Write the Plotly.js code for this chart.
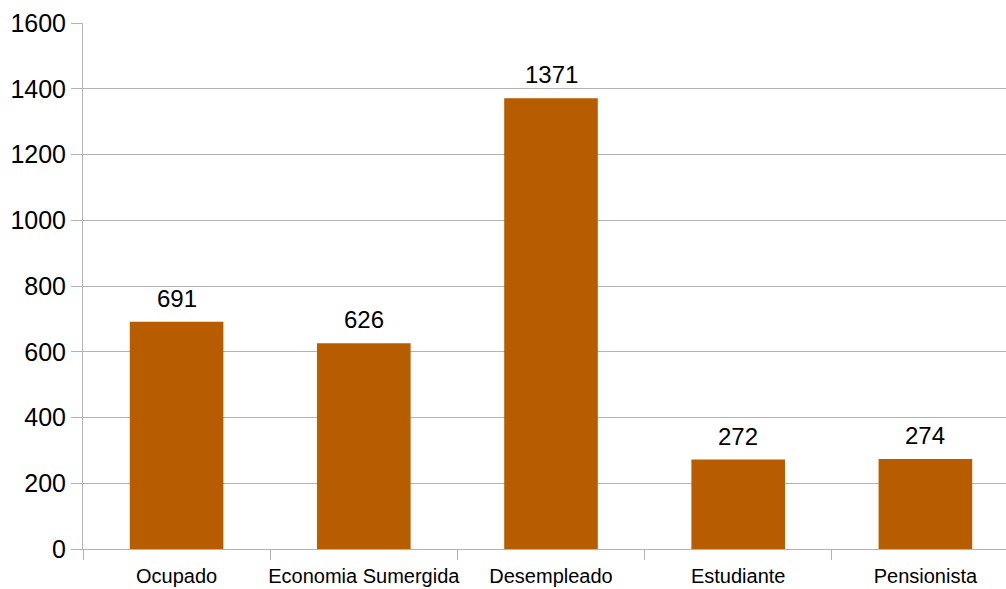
<!DOCTYPE html>
<html>
<head>
<meta charset="utf-8">
<script src="https://cdn.plot.ly/plotly-3.0.1.min.js"></script>
<style>
html,body{margin:0;padding:0;overflow:hidden;background:#fff;width:1006px;height:589px;}
#chart{width:1019px;height:589px;}
</style>
</head>
<body>
<div id="chart"></div>
<script>
const categories = ["Ocupado", "Economia Sumergida", "Desempleado", "Estudiante", "Pensionista"];
const values = [691, 626, 1371, 272, 274];
const yTicks = [0, 200, 400, 600, 800, 1000, 1200, 1400, 1600];

const trace = {
  type: "bar",
  x: categories,
  y: values,
  marker: {color: "#B85C00"},
  width: 0.5,
  hoverinfo: "none"
};

const annotations = categories.map((c, i) => ({
  x: c,
  y: values[i],
  xref: "x",
  yref: "y",
  text: String(values[i]),
  showarrow: false,
  yanchor: "bottom",
  yshift: 8,
  font: {family: "Liberation Sans, Arial, sans-serif", size: 24, color: "#000"}
}));

const layout = {
  width: 1019,
  height: 589,
  margin: {l: 83, r: 0, t: 23, b: 40, pad: 0},
  paper_bgcolor: "#fff",
  plot_bgcolor: "#fff",
  showlegend: false,
  font: {family: "Liberation Sans, Arial, sans-serif", color: "#000"},
  annotations: annotations,
  xaxis: {
    type: "category",
    tickson: "boundaries",
    ticks: "outside",
    ticklen: 10,
    tickcolor: "#b3b3b3",
    showline: true,
    linecolor: "#b3b3b3",
    linewidth: 1,
    showgrid: false,
    tickangle: 0,
    tickfont: {size: 20, color: "#000"},
    ticklabelstandoff: 9,
    fixedrange: true
  },
  yaxis: {
    range: [0, 1600],
    tickvals: yTicks,
    ticktext: yTicks.map(String),
    ticks: "outside",
    ticklen: 11,
    tickcolor: "#b3b3b3",
    showline: true,
    linecolor: "#b3b3b3",
    linewidth: 1,
    showgrid: true,
    gridcolor: "#b3b3b3",
    gridwidth: 1,
    zeroline: false,
    tickfont: {size: 25, color: "#000"},
    ticklabelstandoff: 0,
    fixedrange: true
  },
  bargap: 0.5
};

Plotly.newPlot("chart", [trace], layout, {displayModeBar: false, staticPlot: true});
</script>
</body>
</html>
